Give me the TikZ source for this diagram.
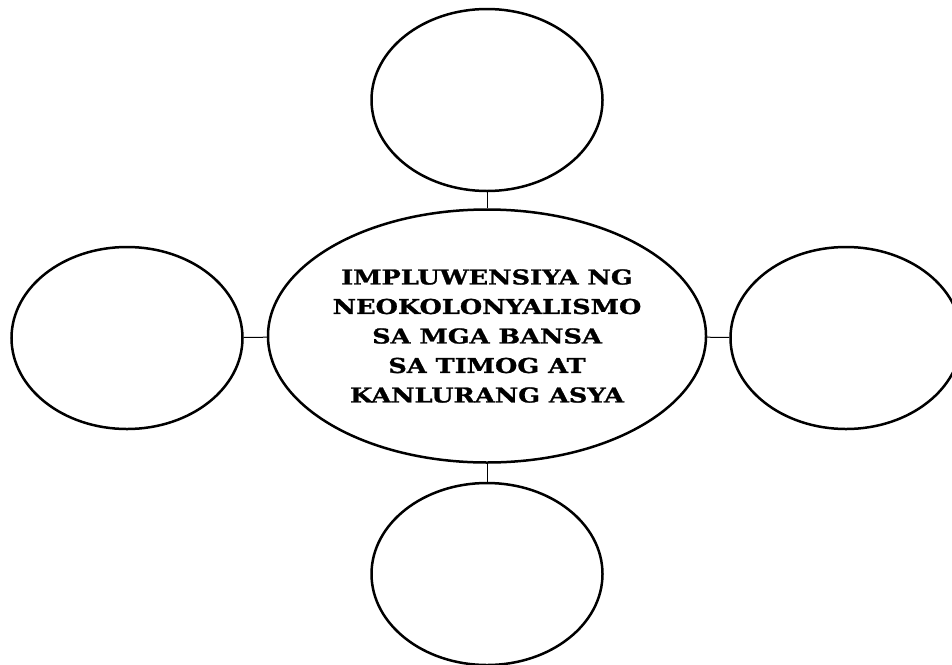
\documentclass[tikz,border=0pt]{standalone}
\usepackage{fontspec}
\usepackage{tikz}
\usetikzlibrary{shapes.geometric}
\newfontfamily\bubblefont[FakeStretch=1.25, BoldFeatures={FakeBold=1.2}]{DejaVu Serif}
\tikzstyle{bubble} = [ellipse, draw=black, line width=2.5pt, minimum width=231pt, minimum height=182pt, inner sep=0pt]
\tikzstyle{mainbubble} = [ellipse, draw=black, line width=2.5pt, minimum width=438pt, minimum height=253pt, inner sep=0pt, align=center, font=\bubblefont\bfseries\fontsize{20.5pt}{29.5pt}\selectfont]
\tikzstyle{link} = [line width=1pt]

\begin{document}
\begin{tikzpicture}[x=1pt, y=1pt, node distance=237pt]
      \useasboundingbox (0,0) rectangle (952,-664);
      \node (main)[mainbubble] at (487,-336) {IMPLUWENSIYA NG\\NEOKOLONYALISMO\\SA MGA BANSA\\SA TIMOG AT\\KANLURANG ASYA};
      \node (top)[bubble, above of=main, yshift=-1pt]{};
      \node (bottom)[bubble, below of=main, yshift=-1pt]{};
      \node (left)[bubble, left of=main, xshift=-123pt, yshift=-2pt]{};
      \node (right)[bubble, right of=main, xshift=122pt, yshift=-2pt]{};
      \draw [link](top)--(main);
      \draw [link](bottom)--(main);
      \draw [link](left)--(main);
      \draw [link](right)--(main);
    \end{tikzpicture}
\end{document}
